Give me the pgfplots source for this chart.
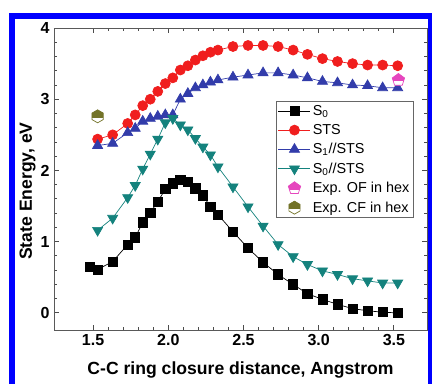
\documentclass[border=0pt]{standalone}
\usepackage{pgfplots}
\pgfplotsset{compat=1.18}
\usepackage{fontspec}
\setmainfont{Liberation Sans}

\definecolor{cred}{RGB}{240,30,30}
\definecolor{cblue}{RGB}{50,60,170}
\definecolor{cteal}{RGB}{20,130,125}
\definecolor{cmag}{RGB}{230,70,190}
\definecolor{colive}{RGB}{115,115,40}
\definecolor{cframe}{RGB}{0,0,255}

\newcommand{\pentpath}{%
  \pgfpathmoveto{\pgfpointpolar{90}{\pgfplotmarksize}}%
  \pgfpathlineto{\pgfpointpolar{162}{\pgfplotmarksize}}%
  \pgfpathlineto{\pgfpointpolar{234}{\pgfplotmarksize}}%
  \pgfpathlineto{\pgfpointpolar{306}{\pgfplotmarksize}}%
  \pgfpathlineto{\pgfpointpolar{18}{\pgfplotmarksize}}%
  \pgfpathclose}
\newcommand{\hexpath}{%
  \pgfpathmoveto{\pgfpointpolar{90}{\pgfplotmarksize}}%
  \pgfpathlineto{\pgfpointpolar{150}{\pgfplotmarksize}}%
  \pgfpathlineto{\pgfpointpolar{210}{\pgfplotmarksize}}%
  \pgfpathlineto{\pgfpointpolar{270}{\pgfplotmarksize}}%
  \pgfpathlineto{\pgfpointpolar{330}{\pgfplotmarksize}}%
  \pgfpathlineto{\pgfpointpolar{30}{\pgfplotmarksize}}%
  \pgfpathclose}
\newcommand{\topclip}{%
  \pgfpathrectangle{\pgfpoint{-1.05\pgfplotmarksize}{-0.15\pgfplotmarksize}}{\pgfpoint{2.1\pgfplotmarksize}{1.2\pgfplotmarksize}}%
  \pgfusepath{clip}}
\pgfdeclareplotmark{halfpentagon}{%
  \begin{pgfscope}\pgfsetfillcolor{white}\pentpath\pgfusepathqfill\end{pgfscope}%
  \begin{pgfscope}\topclip\pentpath\pgfusepathqfill\end{pgfscope}%
  \pentpath\pgfusepathqstroke}
\pgfdeclareplotmark{halfhexagon}{%
  \begin{pgfscope}\pgfsetfillcolor{white}\hexpath\pgfusepathqfill\end{pgfscope}%
  \begin{pgfscope}\topclip\hexpath\pgfusepathqfill\end{pgfscope}%
  \hexpath\pgfusepathqstroke}

\begin{document}
\begin{tikzpicture}[x=1pt,y=1pt]
\path[use as bounding box] (0,0) rectangle (432,384);
\fill[cframe] (9,0) rectangle (15,371);
\fill[cframe] (9,365) rectangle (432,371);
\fill[cframe] (428,0) rectangle (432,371);
\begin{axis}[
  at={(54pt,54pt)}, anchor=south west,
  scale only axis, width=373pt, height=302pt,
  xmin=1.24, xmax=3.72, ymin=-0.24, ymax=4,
  xtick={1.5,2,2.5,3,3.5}, xticklabels={1.5,2.0,2.5,3.0,3.5},
  ytick={0,1,2,3,4},
  minor x tick num=4, minor y tick num=4,
  tick align=inside,
  major tick length=5pt, minor tick length=3pt,
  axis line style={black!65, line width=0.9pt},
  every tick/.style={black!70, line width=0.9pt},
  /pgf/number format/assume math mode=true,
  tick label style={font=\fontsize{16}{19}\selectfont\bfseries},
  xticklabel style={yshift=-1pt},
  yticklabel style={xshift=-1pt},
  label style={font=\fontsize{17.6}{20}\selectfont\bfseries},
  xlabel={C-C ring closure distance, Angstrom},
  ylabel={State Energy, eV},
  xlabel style={yshift=-9pt},
  ylabel style={at={(ticklabel cs:0.46)}, yshift=-2pt},
  legend style={at={(rel axis cs:0.595,0.758)}, anchor=north west,
    draw=black!60, font=\fontsize{14.4}{16}\selectfont,
    inner sep=2pt, row sep=3.5pt},
  legend cell align=left,
  legend image code/.code={\draw[mark repeat=2,mark phase=2] plot coordinates {(0pt,0pt) (16pt,0pt) (32pt,0pt)};},
]
\addplot[black, line width=0.7pt, mark=square*, mark size=4.6pt, mark options={solid, fill=black}] coordinates {
(1.48,0.65) (1.53,0.61) (1.63,0.72) (1.73,0.96) (1.78,1.06) (1.83,1.27) (1.88,1.41) (1.93,1.56)
(1.98,1.74) (2.03,1.82) (2.08,1.87) (2.13,1.84) (2.18,1.75) (2.23,1.65) (2.28,1.49) (2.33,1.38)
(2.43,1.14) (2.53,0.91) (2.63,0.71) (2.73,0.54) (2.83,0.40) (2.925,0.27) (3.025,0.19) (3.125,0.12)
(3.225,0.06) (3.325,0.03) (3.425,0.01) (3.525,0.0)};
\addlegendentry{S\textsubscript{0}}
\addplot[cred, line width=0.7pt, mark=*, mark size=5pt, mark options={solid, fill=cred}] coordinates {
(1.53,2.44) (1.63,2.50) (1.73,2.66) (1.78,2.78) (1.83,2.91) (1.88,3.00) (1.93,3.11)
(1.98,3.22) (2.03,3.30) (2.08,3.41) (2.13,3.47) (2.18,3.55) (2.23,3.61) (2.28,3.66) (2.33,3.69)
(2.43,3.74) (2.53,3.755) (2.63,3.755) (2.73,3.74) (2.83,3.69) (2.925,3.63) (3.025,3.57) (3.125,3.53)
(3.225,3.50) (3.325,3.48) (3.425,3.48) (3.525,3.47)};
\addlegendentry{STS}
\addplot[cblue, line width=0.7pt, mark=triangle*, mark size=5.8pt, mark options={solid, fill=cblue}] coordinates {
(1.53,2.35) (1.63,2.38) (1.73,2.53) (1.78,2.59) (1.83,2.69) (1.88,2.73) (1.93,2.76)
(1.98,2.78) (2.03,2.78) (2.08,3.00) (2.13,3.08) (2.18,3.16) (2.23,3.20) (2.28,3.24) (2.33,3.27)
(2.43,3.31) (2.53,3.34) (2.63,3.37) (2.73,3.37) (2.83,3.34) (2.925,3.30) (3.025,3.25) (3.125,3.23)
(3.225,3.20) (3.325,3.19) (3.425,3.16) (3.525,3.16)};
\addlegendentry{S\textsubscript{1}//STS}
\addplot[cteal, line width=0.7pt, mark=triangle*, mark size=5.8pt, mark options={solid, fill=cteal, rotate=180}] coordinates {
(1.53,1.16) (1.63,1.33) (1.73,1.62) (1.78,1.79) (1.83,2.02) (1.88,2.23) (1.93,2.44)
(1.98,2.67) (2.03,2.73) (2.08,2.64) (2.13,2.57) (2.18,2.45) (2.23,2.33) (2.28,2.22) (2.33,2.05)
(2.43,1.77) (2.53,1.49) (2.63,1.22) (2.73,0.96) (2.83,0.79) (2.925,0.68) (3.025,0.59) (3.125,0.54)
(3.225,0.48) (3.325,0.45) (3.425,0.42) (3.525,0.42)};
\addlegendentry{S\textsubscript{0}//STS}
\addplot[only marks, mark=halfpentagon, mark size=6.5pt, draw=cmag, fill=cmag, line width=0.7pt] coordinates {(3.53,3.27)};
\addlegendentry{Exp. OF in hex}
\addplot[only marks, mark=halfhexagon, mark size=6.5pt, draw=colive, fill=colive, line width=0.7pt] coordinates {(1.53,2.76)};
\addlegendentry{Exp. CF in hex}
\end{axis}
\end{tikzpicture}
\end{document}
